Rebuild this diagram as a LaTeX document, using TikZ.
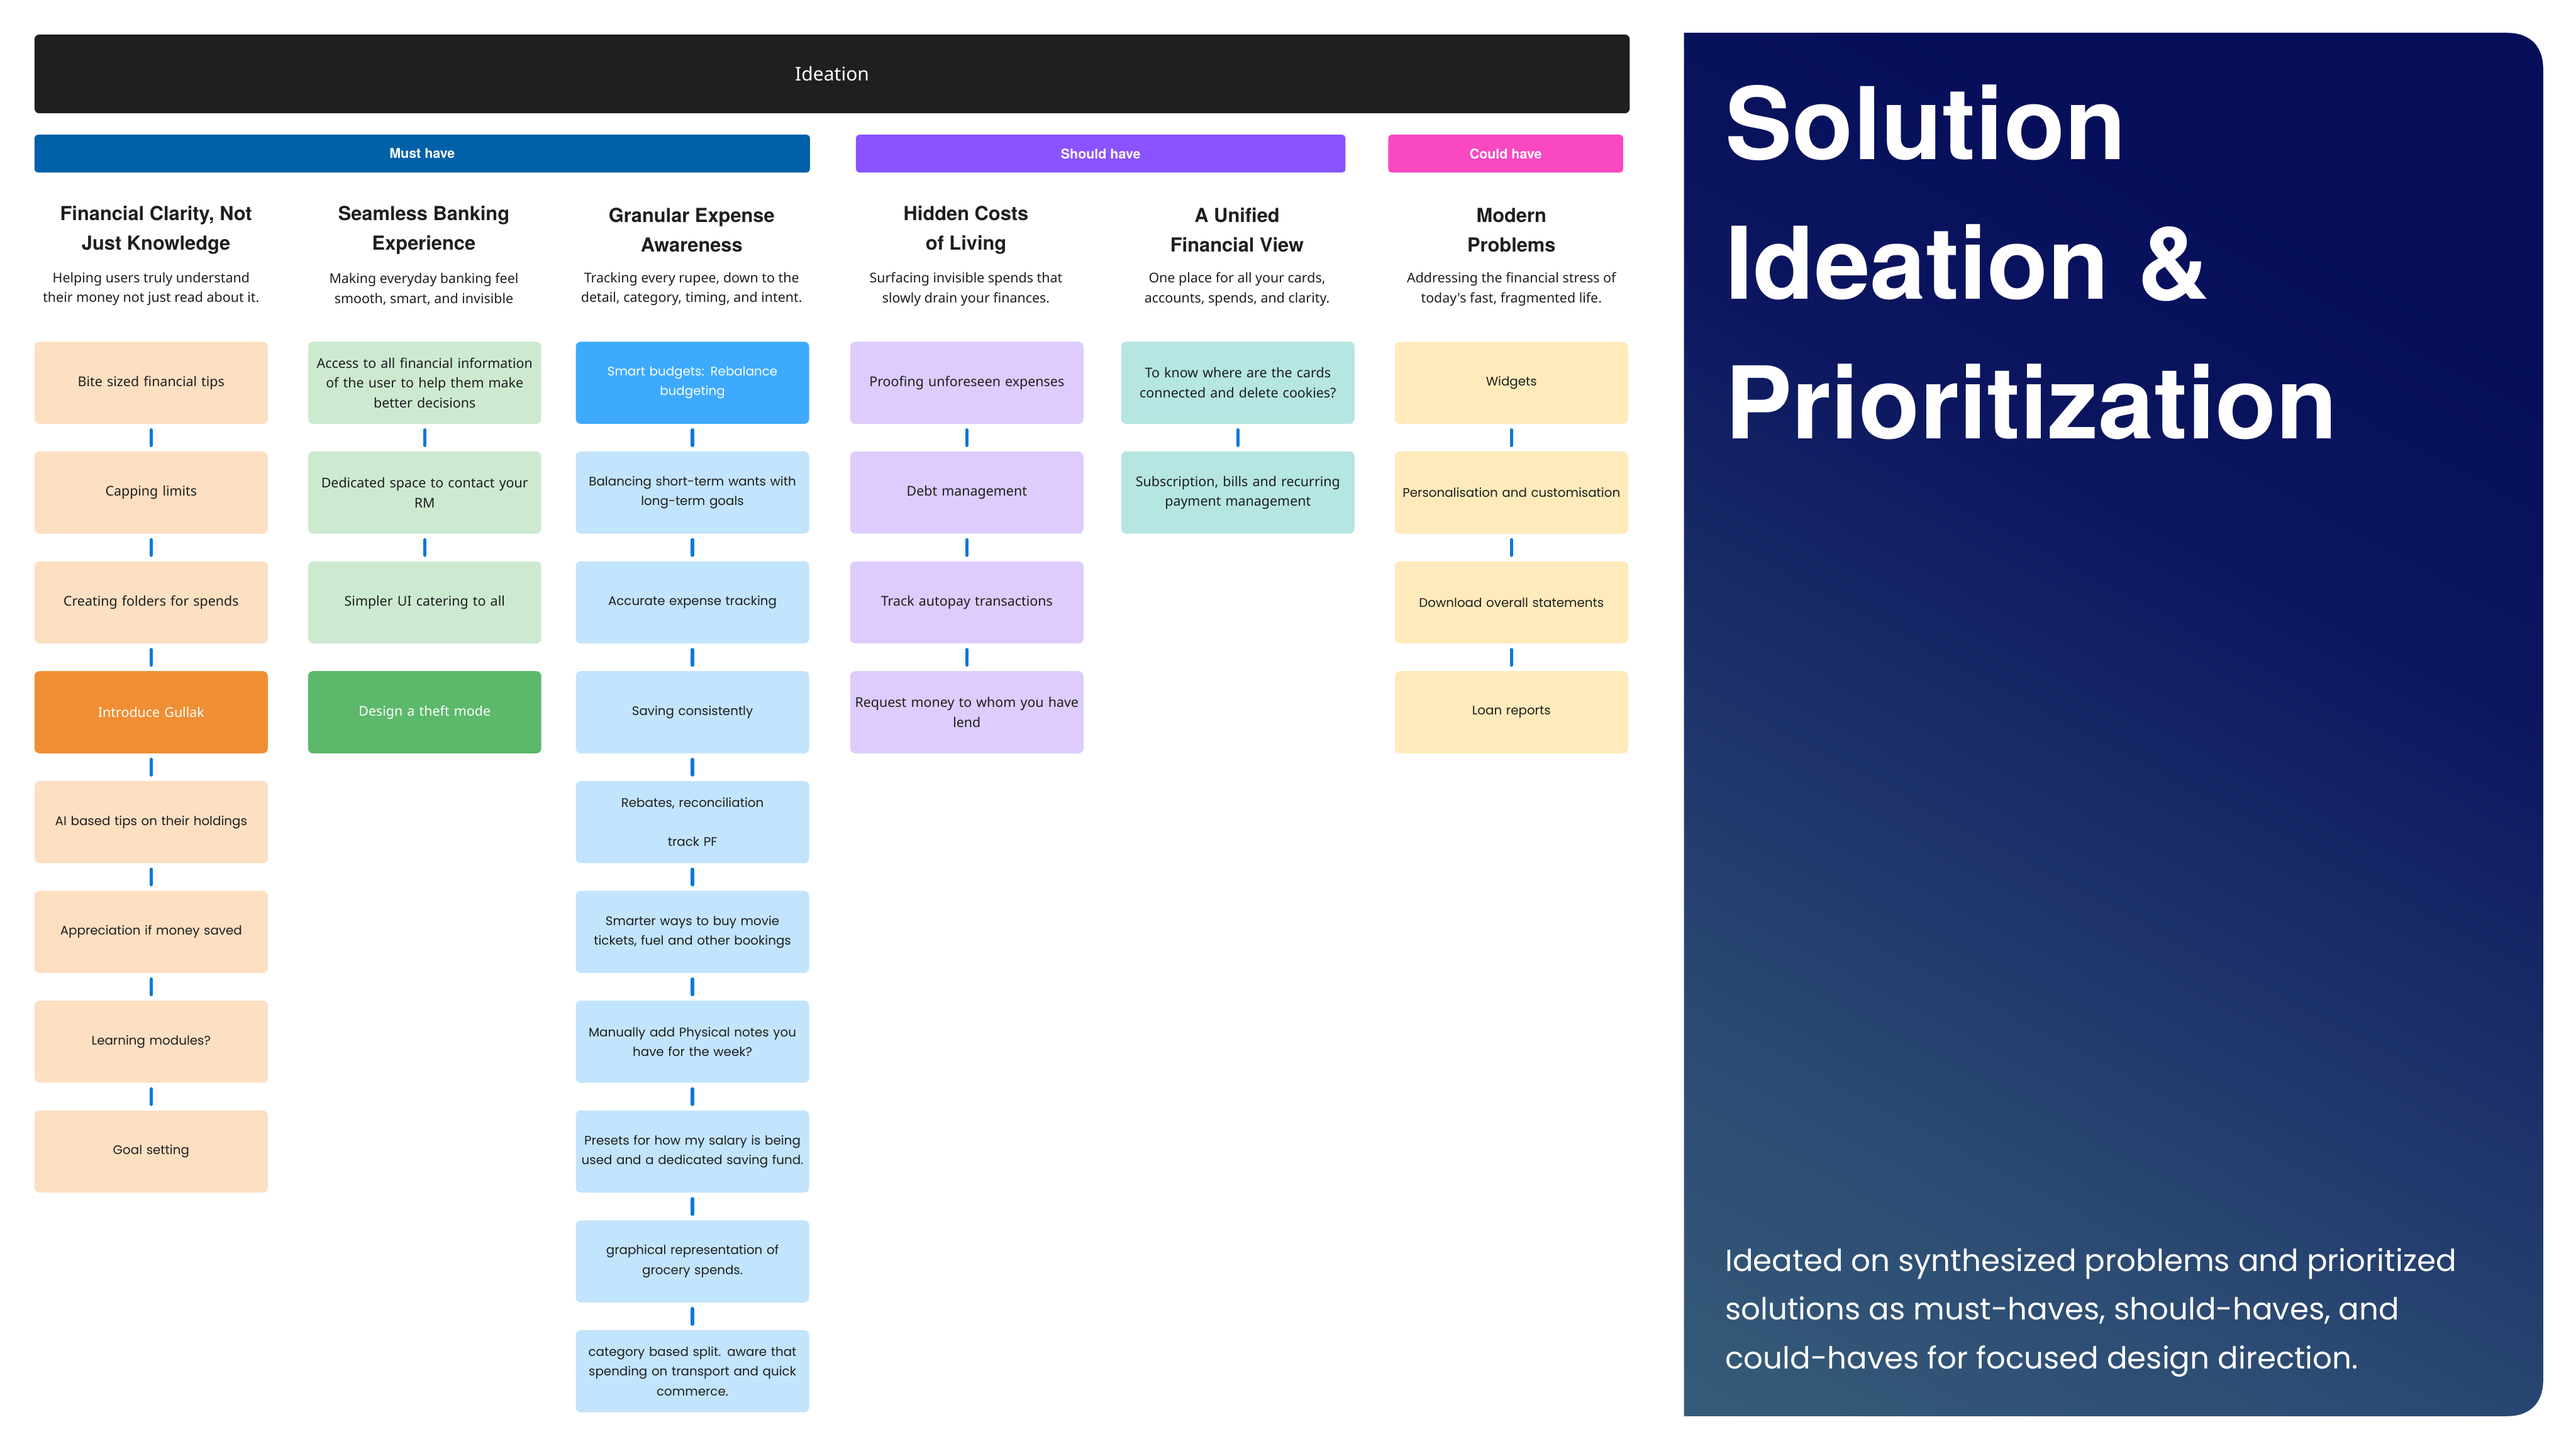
\documentclass[tikz,border=0pt]{standalone}
\usepackage{fontspec}
\setmainfont{Noto Sans}
\newfontfamily\inter{Noto Sans}
\newfontfamily\wide{Poppins}
\newfontfamily\heros{TeX Gyre Heros}
\hyphenpenalty=10000
\exhyphenpenalty=10000
\definecolor{txt}{HTML}{1E1E1E}
\definecolor{barblack}{HTML}{1F1F1F}
\definecolor{must}{HTML}{0060A8}
\definecolor{should}{HTML}{8B52FF}
\definecolor{could}{HTML}{F948C1}
\definecolor{peach}{HTML}{FDDFC2}
\definecolor{orange}{HTML}{F08E33}
\definecolor{lgreen}{HTML}{CDEAD1}
\definecolor{dgreen}{HTML}{5CB86B}
\definecolor{lblue}{HTML}{C2E4FD}
\definecolor{dblue}{HTML}{3DAAFE}
\definecolor{lav}{HTML}{DDCCFD}
\definecolor{teal}{HTML}{B5E6E1}
\definecolor{yel}{HTML}{FEEABB}
\definecolor{conncol}{HTML}{0A78D8}
\definecolor{pb1}{HTML}{416F80}
\definecolor{pb2}{HTML}{2C4B73}
\definecolor{pb3}{HTML}{0C1760}
\definecolor{pb4}{HTML}{060E5A}
\pgfdeclareverticalshading{panelshade}{100bp}{color(0bp)=(pb1); color(30bp)=(pb2); color(58bp)=(pb3); color(72bp)=(pb4); color(100bp)=(pb4)}
\begin{document}
\begin{tikzpicture}[x=1pt,y=-1pt,
  box/.style={rectangle, rounded corners=3pt, minimum width=142pt, minimum height=50pt, inner sep=0pt, text width=140pt, align=center, text=txt, font=\inter\fontsize{8.2}{12}\selectfont},
  wbox/.style={box, font=\wide\fontsize{7.6}{12}\selectfont},
  conn/.style={draw=conncol, line width=2pt, line cap=round, shorten >=3.5pt, shorten <=3.5pt},
  cat/.style={rectangle, rounded corners=2pt, minimum height=23pt, inner sep=0pt, text=white, font=\heros\bfseries\fontsize{8.2}{9}\selectfont},
  head/.style={align=center, inner sep=0pt, font=\heros\bfseries\fontsize{11.8}{18}\selectfont, text=txt},
  sub/.style={align=center, inner sep=0pt, font=\inter\fontsize{8.2}{12}\selectfont, text=txt},
  ttl/.style={anchor=base west, inner sep=0pt, text=white, font=\heros\bfseries\fontsize{61}{70}\selectfont},
  dsc/.style={anchor=base west, inner sep=0pt, text=white, font=\wide\fontsize{18.5}{24}\selectfont}
]
\useasboundingbox[fill=white] (0,0) rectangle (1568,882);

% header bars
\node[rectangle, rounded corners=3pt, fill=barblack, minimum width=971pt, minimum height=48pt, inner sep=0pt, text=white, font=\inter\fontsize{11.5}{13}\selectfont] (ideation) at (506.5,45) {Ideation};
\node[cat, fill=must, minimum width=472pt] (mustbar) at (257,93.5) {Must have};
\node[cat, fill=should, minimum width=298pt] (shouldbar) at (670,93.5) {Should have};
\node[cat, fill=could, minimum width=143pt] (couldbar) at (916.5,93.5) {Could have};

% headings
\node[head] (h1) at (95,140) {Financial Clarity, Not\\Just Knowledge};
\node[head] (h2) at (258,140) {Seamless Banking\\Experience};
\node[head] (h3) at (421,140) {Granular Expense\\Awareness};
\node[head] (h4) at (588,140) {Hidden Costs\\of Living};
\node[head] (h5) at (753,140) {A Unified\\Financial View};
\node[head] (h6) at (920,140) {Modern\\Problems};

\node[sub] (s1) at (92,176) {Helping users truly understand\\their money not just read about it.};
\node[sub] (s2) at (258,176) {Making everyday banking feel\\smooth, smart, and invisible};
\node[sub] (s3) at (421,176) {Tracking every rupee, down to the\\detail, category, timing, and intent.};
\node[sub] (s4) at (588,176) {Surfacing invisible spends that\\slowly drain your finances.};
\node[sub] (s5) at (753,176) {One place for all your cards,\\accounts, spends, and clarity.};
\node[sub] (s6) at (920,176) {Addressing the financial stress of\\today's fast, fragmented life.};

% column 1
\node[box, fill=peach] (a1) at (92,233) {Bite sized financial tips};
\node[box, fill=peach] (a2) at (92,299.85) {Capping limits};
\node[box, fill=peach] (a3) at (92,366.7) {Creating folders for spends};
\node[box, fill=orange, text=white] (a4) at (92,433.55) {Introduce Gullak};
\node[wbox, fill=peach] (a5) at (92,500.4) {AI based tips on their holdings};
\node[wbox, fill=peach] (a6) at (92,567.25) {Appreciation if money saved};
\node[wbox, fill=peach] (a7) at (92,634.1) {Learning modules?};
\node[wbox, fill=peach] (a8) at (92,700.95) {Goal setting};
\foreach \i/\j in {1/2,2/3,3/4,4/5,5/6,6/7,7/8} \draw[conn] (a\i) -- (a\j);

% column 2
\node[box, fill=lgreen] (b1) at (258.5,233) {Access to all financial information\\of the user to help them make\\better decisions};
\node[box, fill=lgreen] (b2) at (258.5,299.85) {Dedicated space to contact your\\RM};
\node[box, fill=lgreen] (b3) at (258.5,366.7) {Simpler UI catering to all};
\node[box, fill=dgreen, text=white] (b4) at (258.5,433.55) {Design a theft mode};
\foreach \i/\j in {1/2,2/3} \draw[conn] (b\i) -- (b\j);

% column 3
\node[wbox, fill=dblue, text=white] (c1) at (421.5,233) {Smart budgets: Rebalance\\budgeting};
\node[wbox, fill=lblue] (c2) at (421.5,299.85) {Balancing short-term wants with\\long-term goals};
\node[wbox, fill=lblue] (c3) at (421.5,366.7) {Accurate expense tracking};
\node[wbox, fill=lblue] (c4) at (421.5,433.55) {Saving consistently};
\node[wbox, fill=lblue] (c5) at (421.5,500.4) {Rebates, reconciliation\\[12pt]track PF};
\node[wbox, fill=lblue] (c6) at (421.5,567.25) {Smarter ways to buy movie\\tickets, fuel and other bookings};
\node[wbox, fill=lblue] (c7) at (421.5,634.1) {Manually add Physical notes you\\have for the week?};
\node[wbox, fill=lblue] (c8) at (421.5,700.95) {Presets for how my salary is being\\used and a dedicated saving fund.};
\node[wbox, fill=lblue] (c9) at (421.5,767.8) {graphical representation of\\grocery spends.};
\node[wbox, fill=lblue] (c10) at (421.5,834.65) {category based split. aware that\\spending on transport and quick\\commerce.};
\foreach \i/\j in {1/2,2/3,3/4,4/5,5/6,6/7,7/8,8/9,9/10} \draw[conn] (c\i) -- (c\j);

% column 4
\node[box, fill=lav] (d1) at (588.5,233) {Proofing unforeseen expenses};
\node[box, fill=lav] (d2) at (588.5,299.85) {Debt management};
\node[box, fill=lav] (d3) at (588.5,366.7) {Track autopay transactions};
\node[box, fill=lav] (d4) at (588.5,433.55) {Request money to whom you have\\lend};
\foreach \i/\j in {1/2,2/3,3/4} \draw[conn] (d\i) -- (d\j);

% column 5
\node[box, fill=teal] (e1) at (753.5,233) {To know where are the cards\\connected and delete cookies?};
\node[box, fill=teal] (e2) at (753.5,299.85) {Subscription, bills and recurring\\payment management};
\draw[conn] (e1) -- (e2);

% column 6
\node[wbox, fill=yel] (f1) at (920,233) {Widgets};
\node[wbox, fill=yel] (f2) at (920,299.85) {Personalisation and customisation};
\node[wbox, fill=yel] (f3) at (920,366.7) {Download overall statements};
\node[wbox, fill=yel] (f4) at (920,433.55) {Loan reports};
\foreach \i/\j in {1/2,2/3,3/4} \draw[conn] (f\i) -- (f\j);

% right panel
\shade[shading=panelshade, shading angle=-28] (1025,20) -- (1526,20) .. controls (1540,20) and (1548,28) .. (1548,42) -- (1548,840) .. controls (1548,854) and (1540,862) .. (1526,862) -- (1025,862) -- cycle;
\node[ttl] (t1) at (1050,97) {Solution};
\node[ttl] (t2) at (1050,182) {Ideation \&};
\node[ttl] (t3) at (1050,267) {Prioritization};
\node[dsc] (p1) at (1050,774) {Ideated on synthesized problems and prioritized};
\node[dsc] (p2) at (1050,803.5) {solutions as must-haves, should-haves, and};
\node[dsc] (p3) at (1050,833) {could-haves for focused design direction.};
\end{tikzpicture}
\end{document}
